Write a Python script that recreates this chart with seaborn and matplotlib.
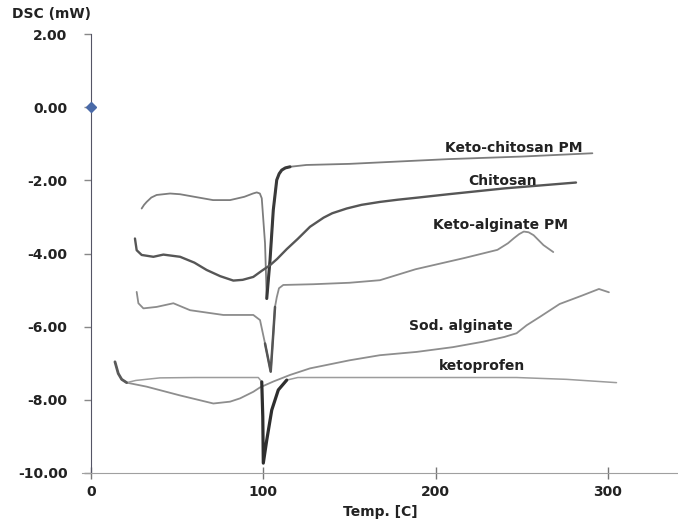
import numpy as np
import pandas as pd
import matplotlib
matplotlib.use("Agg")
import matplotlib.pyplot as plt
import seaborn as sns
from matplotlib.ticker import MultipleLocator

# ---- data ----
kc_x = [29.4, 30.8, 32.3, 35, 38.1, 45.9, 51.7, 60, 70.8, 80.7, 89, 94, 96.2, 98, 99.1, 101.0, 102.0,
        103.9, 105.8, 107.8, 109.2, 110.7, 112.8, 115.5, 125, 150, 207.5, 250, 291]
kc_y = [-2.77, -2.67, -2.59, -2.47, -2.40, -2.36, -2.38, -2.45, -2.54, -2.54, -2.45, -2.36, -2.33,
        -2.36, -2.49, -3.72, -5.23, -4.18, -2.81, -1.99, -1.82, -1.72, -1.66, -1.63, -1.58, -1.55,
        -1.42, -1.35, -1.26]

ch_x = [25.5, 26.5, 29.4, 36.2, 42, 51.7, 60, 67.1, 75, 82.6, 88, 94.2, 99.2, 103.9, 108, 113.6,
        120, 127.1, 135, 140, 148.4, 157, 167.7, 178, 190, 207.4, 240, 281.5]
ch_y = [-3.59, -3.91, -4.04, -4.09, -4.03, -4.09, -4.25, -4.45, -4.62, -4.74, -4.72, -4.64, -4.47,
        -4.32, -4.15, -3.88, -3.60, -3.27, -3.02, -2.90, -2.77, -2.67, -2.59, -2.53, -2.47, -2.38,
        -2.22, -2.06]

ka_x = [26.5, 27.5, 30.4, 38.1, 47.8, 57.5, 76.8, 88, 94.2, 98.1, 101.0, 104.3, 105.8, 106.8, 107.8,
        109.1, 111.6, 129, 150, 167.7, 188.4, 217, 235.9, 242, 245.5, 248.5, 251.2, 254, 256.9,
        262.6, 268.3]
ka_y = [-5.05, -5.36, -5.50, -5.46, -5.36, -5.55, -5.68, -5.68, -5.68, -5.82, -6.46, -7.23, -6.18,
        -5.46, -5.20, -4.95, -4.86, -4.84, -4.80, -4.73, -4.43, -4.12, -3.90, -3.72, -3.58, -3.47,
        -3.40, -3.42, -3.50, -3.77, -3.96]

sa_x = [17.8, 20.7, 32.3, 51.7, 71, 80.7, 86.5, 94.2, 98.1, 105.8, 115.5, 127.1, 150, 167.7, 189,
        210, 227.7, 240, 247, 252.9, 260.6, 272, 285, 294.8, 300.6]
sa_y = [-7.44, -7.53, -7.64, -7.88, -8.10, -8.05, -7.96, -7.78, -7.66, -7.50, -7.32, -7.14, -6.92,
        -6.78, -6.69, -6.56, -6.41, -6.28, -6.18, -5.96, -5.73, -5.38, -5.15, -4.97, -5.06]

kp_x = [13.9, 15.8, 17.8, 20.7, 26, 40, 60, 80, 97.1, 99.1, 99.7, 100.0, 102.0, 104.9, 108.7,
        113.6, 120, 167.7, 247, 276, 305]
kp_y = [-6.96, -7.28, -7.44, -7.53, -7.47, -7.40, -7.39, -7.39, -7.39, -7.51, -8.46, -9.73, -9.10,
        -8.28, -7.73, -7.46, -7.39, -7.39, -7.39, -7.44, -7.53]

labels = ["Keto-chitosan PM", "Chitosan", "Keto-alginate PM", "Sod. alginate", "ketoprofen"]
label_x = [205.5, 218.8, 198.5, 184.6, 202]
label_y = [-1.12, -2.02, -3.22, -5.98, -7.08]

y_ticks = [-10, -8, -6, -4, -2, 0, 2]
x_ticks = [0, 100, 200, 300]

# ---- figure ----
sns.set_style("white")
plt.rcParams["font.family"] = ["DejaVu Sans"]

fig = plt.figure(figsize=(6.78, 5.21), dpi=100)
ax = fig.add_axes([82.4 / 678, 48 / 521, 595.6 / 678, 439 / 521])


def draw(xs, ys, color, lw, sl=None):
    if sl is not None:
        xs, ys = xs[sl], ys[sl]
    sns.lineplot(x=xs, y=ys, sort=False, estimator=None, color=color, linewidth=lw, ax=ax)
    ax.lines[-1].set_solid_joinstyle("round")
    ax.lines[-1].set_solid_capstyle("round")


draw(kc_x, kc_y, "#7d7d7d", 1.3)
draw(kc_x, kc_y, "#3a3a3a", 2.2, slice(16, 24))
draw(ch_x, ch_y, "#565656", 1.7)
draw(ka_x, ka_y, "#8c8c8c", 1.3)
draw(ka_x, ka_y, "#555555", 1.8, slice(10, 14))
draw(sa_x, sa_y, "#8e8e8e", 1.3)
draw(kp_x, kp_y, "#9c9c9c", 1.1)
draw(kp_x, kp_y, "#2e2e2e", 2.3, slice(9, 16))
draw(kp_x, kp_y, "#5a5a5a", 2.0, slice(0, 4))

# diamond marker at origin
ax.plot([0], [0], marker="D", markersize=5, color="#4a6aa8", linestyle="none", zorder=5)

for t, lx, ly in zip(labels, label_x, label_y):
    ax.text(lx, ly, t, fontsize=10, fontweight="bold", color="#222222", ha="left", va="center")

ax.set_xlim(-5, 340.7)
ax.set_ylim(-10, 2)
ax.spines["left"].set_position(("data", 0))
ax.spines["left"].set_color("#555566")
ax.spines["bottom"].set_color("#a0a0a0")
ax.spines["top"].set_visible(False)
ax.spines["right"].set_visible(False)

ax.set_yticks(y_ticks)
ax.set_yticklabels([f"{v:.2f}" for v in y_ticks])
ax.set_xticks(x_ticks)
ax.set_xticklabels([str(v) for v in x_ticks])
ax.xaxis.set_minor_locator(MultipleLocator(20))

ax.tick_params(axis="y", which="major", direction="out", length=5, width=1, color="#888888",
               labelsize=10, pad=12)
ax.tick_params(axis="x", which="major", direction="inout", length=8, width=1, color="#777777",
               labelsize=10, pad=5)
ax.tick_params(axis="x", which="minor", direction="inout", length=5, width=0.8, color="#888888")
ax.tick_params(left=True, bottom=True)
for lab in ax.get_xticklabels() + ax.get_yticklabels():
    lab.set_fontweight("bold")
    lab.set_color("#222222")

ax.set_xlabel("Temp. [C]", fontsize=10, fontweight="bold", color="#222222", labelpad=4)
ax.set_ylabel("")
fig.text(12 / 678, 1 - 14 / 521, "DSC (mW)", fontsize=10, fontweight="bold", color="#222222",
         ha="left", va="center")

fig.savefig("out.png", dpi=100)
